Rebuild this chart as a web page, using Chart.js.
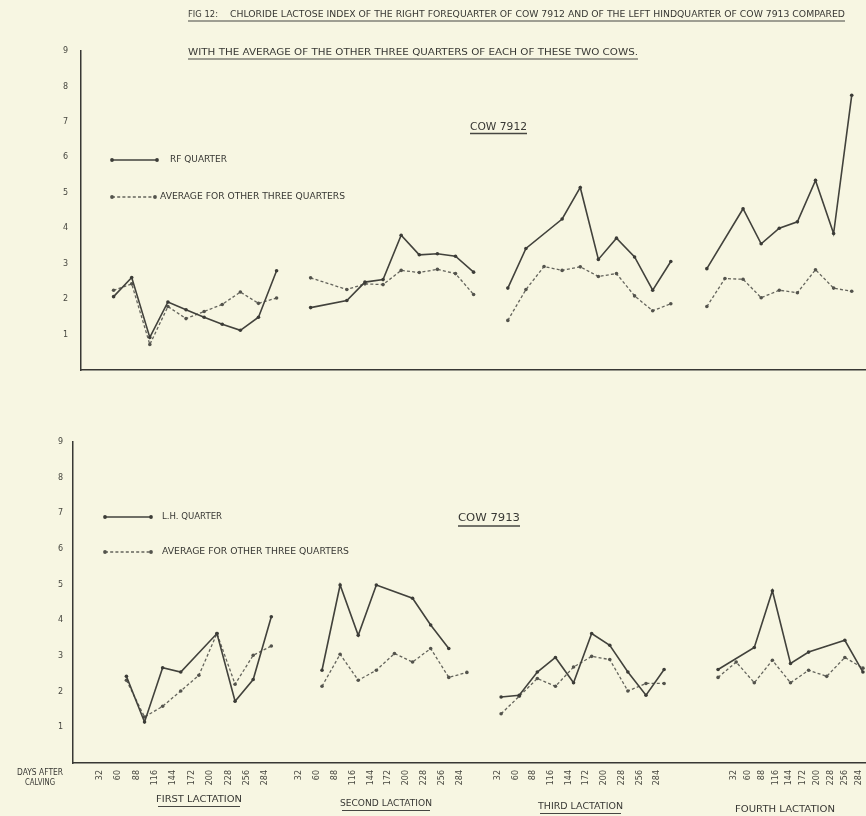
<!DOCTYPE html>
<html>
<head>
<meta charset="utf-8">
<title>Chloride-lactose index, cows 7912 and 7913</title>
<script src="https://cdn.jsdelivr.net/npm/chart.js@4.4.1/dist/chart.umd.min.js"></script>
<style>
  html, body { margin: 0; padding: 0; background: #f7f6e2; overflow: hidden; }
  #sheet { position: relative; width: 866px; height: 816px; overflow: hidden; background: #f7f6e2; }
  #sheet canvas { position: absolute; left: 0; top: 0; }
</style>
</head>
<body>
<div id="sheet">
  <canvas id="cow7912" width="880" height="816"></canvas>
  <canvas id="cow7913" width="880" height="816"></canvas>
</div>
<script>
// Sampling days after calving (x tick labels, repeated for each lactation)
const days = [32, 60, 88, 116, 144, 172, 200, 228, 256, 284];
const lactationNames = ['FIRST LACTATION', 'SECOND LACTATION', 'THIRD LACTATION', 'FOURTH LACTATION'];

// Cow 7912 - right forequarter, one row per lactation (null = no sample)
const rfQuarter7912 = [
  [2.07, 2.61, 0.92, 1.92, 1.70, 1.49, 1.29, 1.12, 1.49, 2.80],
  [1.76, null, 1.96, 2.48, 2.55, 3.80, 3.25, 3.28, 3.21, 2.76],
  [2.31, 3.43, null, 4.26, 5.15, 3.12, 3.72, 3.19, 2.25, 3.06],
  [2.86, null, 4.55, 3.56, 4.00, 4.18, 5.35, 3.85, 7.75, null]
];
// Cow 7912 - average of the other three quarters
const otherThree7912 = [
  [2.25, 2.43, 0.72, 1.79, 1.45, 1.65, 1.85, 2.20, 1.88, 2.03],
  [2.60, null, 2.27, 2.43, 2.41, 2.81, 2.75, 2.84, 2.72, 2.13],
  [1.40, 2.27, 2.92, 2.81, 2.91, 2.64, 2.72, 2.09, 1.67, 1.87],
  [1.79, 2.58, 2.56, 2.04, 2.25, 2.18, 2.83, 2.31, 2.22, null]
];
// Cow 7913 - left hindquarter
const lhQuarter7913 = [
  [2.43, 1.15, 2.67, 2.55, null, 3.63, 1.73, 2.34, 4.10, null],
  [2.60, 4.99, 3.58, 4.99, null, 4.62, 3.87, 3.21, null, null],
  [1.85, 1.90, 2.55, 2.96, 2.25, 3.63, 3.30, 2.55, 1.90, 2.62],
  [2.62, null, 3.24, 4.83, 2.79, 3.11, null, 3.44, 2.55, null]
];
// Cow 7913 - average of the other three quarters
const otherThree7913 = [
  [2.32, 1.29, 1.59, 2.02, 2.46, 3.63, 2.21, 3.02, 3.28, null],
  [2.15, 3.05, 2.32, 2.60, 3.07, 2.83, 3.21, 2.40, 2.54, null],
  [1.38, 1.87, 2.37, 2.15, 2.69, 2.99, 2.90, 2.02, 2.23, 2.23],
  [2.40, 2.83, 2.25, 2.88, 2.25, 2.60, 2.43, 2.96, 2.66, null]
];

// ---- layout (x scale is measured in sampling slots, one slot per 28 days) ----
const CANVAS_W = 880, CANVAS_H = 816, SLOT_PX = 18.2;
const INK = '#383834';
const FONT = '"DejaVu Sans", "Liberation Sans", sans-serif';

const panel7912 = { axisLeft: 81, top: 51, bottom: 370, lactStart: [1.80, 12.68, 23.57, 34.56] };
const panel7913 = {
  axisLeft: 73, top: 442, bottom: 763, lactStart: [2.95, 13.75, 23.64, 35.62],
  tickStart: [1.48, 12.47, 23.46, 36.48], tickStep: [1.016, 0.989, 0.978, 0.769]
};

// One line per series; a null point between lactations breaks the line.
function toPoints(series, starts) {
  const pts = [];
  series.forEach((row, g) => {
    row.forEach((v, i) => { if (v !== null) pts.push({ x: starts[g] + i, y: v }); });
    pts.push({ x: starts[g] + days.length - 0.5, y: null });
  });
  return pts;
}

const solidStyle = {
  borderColor: '#42423c', backgroundColor: '#42423c', borderWidth: 1.6,
  pointRadius: 1.8, pointBorderWidth: 0, pointBackgroundColor: '#3c3c37', tension: 0
};
const dashedStyle = {
  borderColor: '#64645c', backgroundColor: '#64645c', borderWidth: 1.3, borderDash: [3, 2.2],
  pointRadius: 1.8, pointBorderWidth: 0, pointBackgroundColor: '#53534c', tension: 0
};

// text stretched to a given width, left edge at x, vertically centred on y
function fitText(ctx, text, x, y, width, size, color) {
  ctx.save();
  ctx.font = size + 'px ' + FONT;
  ctx.fillStyle = color || INK;
  ctx.textAlign = 'left';
  ctx.textBaseline = 'middle';
  const w = ctx.measureText(text).width;
  ctx.translate(x, y);
  ctx.scale(width / w, 1);
  ctx.fillText(text, 0, 0);
  ctx.restore();
}
function rule(ctx, x1, x2, y, lw) {
  ctx.save();
  ctx.strokeStyle = '#474742';
  ctx.lineWidth = lw || 1.1;
  ctx.beginPath();
  ctx.moveTo(x1, y);
  ctx.lineTo(x2, y);
  ctx.stroke();
  ctx.restore();
}
function legendSample(ctx, ds, x1, x2, y) {
  ctx.save();
  ctx.strokeStyle = ds.borderColor;
  ctx.lineWidth = ds.borderWidth;
  ctx.setLineDash(ds.borderDash || []);
  ctx.beginPath();
  ctx.moveTo(x1, y);
  ctx.lineTo(x2, y);
  ctx.stroke();
  ctx.setLineDash([]);
  ctx.fillStyle = ds.pointBackgroundColor;
  [x1, x2].forEach(px => { ctx.beginPath(); ctx.arc(px, y, 1.9, 0, Math.PI * 2); ctx.fill(); });
  ctx.restore();
}

// headings, cow label and key for the upper panel
const sheetTextPlugin7912 = {
  id: 'sheetText7912',
  afterDraw(chart) {
    const ctx = chart.ctx;
    const ds = chart.data.datasets;
    fitText(ctx, 'FIG 12:', 188, 15, 30, 9);
    fitText(ctx, 'CHLORIDE LACTOSE INDEX OF THE RIGHT FOREQUARTER OF COW 7912 AND OF THE LEFT HINDQUARTER OF COW 7913 COMPARED', 230, 15, 615, 8);
    rule(ctx, 188, 845, 21);
    fitText(ctx, 'WITH THE AVERAGE OF THE OTHER THREE QUARTERS OF EACH OF THESE TWO COWS.', 188, 53, 450, 8);
    rule(ctx, 188, 638, 59);
    fitText(ctx, 'COW 7912', 470, 127, 57, 10);
    rule(ctx, 470, 527, 133.5, 1.3);
    legendSample(ctx, ds[0], 112, 157, 160);
    fitText(ctx, ds[0].label, 170, 160, 57, 8);
    legendSample(ctx, ds[1], 112, 155, 197);
    fitText(ctx, ds[1].label, 160, 197, 185, 8);
  }
};

// cow label, key and x-axis captions for the lower panel
const sheetTextPlugin7913 = {
  id: 'sheetText7913',
  afterDraw(chart) {
    const ctx = chart.ctx;
    const ds = chart.data.datasets;
    fitText(ctx, 'COW 7913', 458, 518, 62, 10);
    rule(ctx, 458, 520, 526, 1.3);
    legendSample(ctx, ds[0], 105, 151, 517);
    fitText(ctx, ds[0].label, 162, 517, 60, 8);
    legendSample(ctx, ds[1], 105, 151, 552);
    fitText(ctx, ds[1].label, 162, 552, 187, 8);
    fitText(ctx, 'DAYS AFTER', 17, 773, 46, 8);
    fitText(ctx, 'CALVING', 25, 783, 30, 8);
    const captions = [
      { x: 156, w: 86, y: 800 },
      { x: 340, w: 92, y: 804 },
      { x: 538, w: 85, y: 807 },
      { x: 735, w: 100, y: 810 }
    ];
    captions.forEach((c, i) => {
      fitText(ctx, lactationNames[i], c.x, c.y, c.w, 8);
      rule(ctx, c.x + 2, c.x + c.w - 2, c.y + 6.5);
    });
  }
};

function yScale(panel, labelPad) {
  return {
    type: 'linear', min: 0, max: 9,
    ticks: {
      stepSize: 1, padding: labelPad, color: '#46463f',
      font: { family: FONT, size: 8 },
      callback: v => (v === 0 ? '' : String(v))
    },
    grid: { display: false, drawTicks: false },
    border: { display: true, color: '#383834', width: 1.5 },
    afterFit: s => { s.width = panel.axisLeft; }
  };
}

// ---- upper panel: cow 7912 ----
new Chart(document.getElementById('cow7912'), {
  type: 'line',
  data: {
    datasets: [
      Object.assign({ label: 'RF QUARTER', data: toPoints(rfQuarter7912, panel7912.lactStart) }, solidStyle),
      Object.assign({ label: 'AVERAGE FOR OTHER THREE QUARTERS', data: toPoints(otherThree7912, panel7912.lactStart) }, dashedStyle)
    ]
  },
  options: {
    responsive: false, animation: false, spanGaps: false,
    layout: { padding: { top: panel7912.top, bottom: CANVAS_H - panel7912.bottom, left: 0, right: 0 } },
    plugins: { legend: { display: false }, tooltip: { enabled: false }, title: { display: false } },
    scales: {
      x: {
        type: 'linear', min: 0, max: (CANVAS_W - panel7912.axisLeft) / SLOT_PX,
        ticks: { display: false },
        grid: { display: false, drawTicks: false },
        border: { display: true, color: '#383834', width: 1.6 },
        afterFit: s => { s.height = 0; }
      },
      y: yScale(panel7912, 13)
    }
  },
  plugins: [sheetTextPlugin7912]
});

// ---- lower panel: cow 7913, carrying the day axis ----
const dayTickPositions = [];
panel7913.tickStart.forEach((s, g) => days.forEach((d, i) => dayTickPositions.push(s + i * panel7913.tickStep[g])));

new Chart(document.getElementById('cow7913'), {
  type: 'line',
  data: {
    datasets: [
      Object.assign({ label: 'L.H. QUARTER', data: toPoints(lhQuarter7913, panel7913.lactStart) }, solidStyle),
      Object.assign({ label: 'AVERAGE FOR OTHER THREE QUARTERS', data: toPoints(otherThree7913, panel7913.lactStart) }, dashedStyle)
    ]
  },
  options: {
    responsive: false, animation: false, spanGaps: false,
    layout: { padding: { top: panel7913.top, bottom: CANVAS_H - panel7913.bottom - 30, left: 0, right: 0 } },
    plugins: { legend: { display: false }, tooltip: { enabled: false }, title: { display: false } },
    scales: {
      x: {
        type: 'linear', bounds: 'data', min: 0, max: (CANVAS_W - panel7913.axisLeft) / SLOT_PX,
        afterBuildTicks: s => { s.ticks = dayTickPositions.map(v => ({ value: v })); },
        ticks: {
          autoSkip: false, minRotation: 90, maxRotation: 90, padding: 7,
          color: '#46463f', font: { family: FONT, size: 8 },
          callback: (v, i) => String(days[i % days.length])
        },
        grid: { display: false, drawTicks: false },
        border: { display: true, color: '#383834', width: 1.6 },
        afterFit: s => { s.height = 30; }
      },
      y: yScale(panel7913, 10)
    }
  },
  plugins: [sheetTextPlugin7913]
});
</script>
</body>
</html>
